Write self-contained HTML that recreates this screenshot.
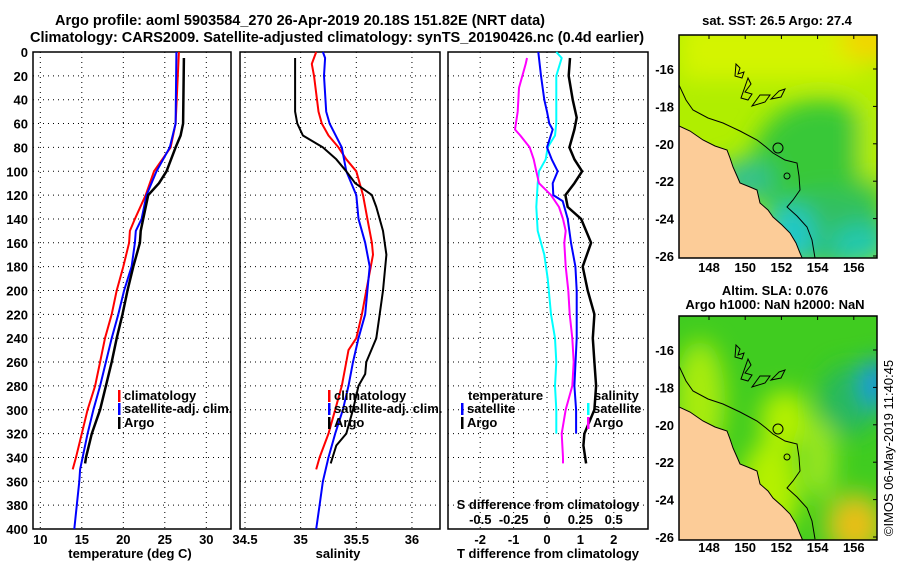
<!DOCTYPE html>
<html><head><meta charset="utf-8"><style>
html,body{margin:0;padding:0;background:#fff;width:900px;height:580px;overflow:hidden}
svg{display:block;font-family:"Liberation Sans",sans-serif;font-weight:bold}
text{font-size:13px;fill:#000}
</style></head><body>
<svg id="chart" width="900" height="580" viewBox="0 0 900 580">
<defs>
<filter id="blur12"><feGaussianBlur stdDeviation="12"/></filter>
<clipPath id="clipTop"><rect x="679" y="35" width="198" height="223"/></clipPath>
<clipPath id="clipBot"><rect x="679" y="316" width="198" height="224"/></clipPath>
</defs>
<text x="300" y="25" text-anchor="middle" style="font-size:14.5px">Argo profile: aoml 5903584_270 26-Apr-2019 20.18S 151.82E (NRT data)</text>
<text x="337" y="42" text-anchor="middle" style="font-size:14.5px">Climatology: CARS2009. Satellite-adjusted climatology: synTS_20190426.nc (0.4d earlier)</text>

<g id="p1"></g>
<g id="p2"></g>
<g id="p3"></g>

<g>
<text x="777" y="25" text-anchor="middle">sat. SST: 26.5 Argo: 27.4</text>
<g clip-path="url(#clipTop)">
<rect x="679" y="35" width="198" height="223" fill="#b0ee00"/>
<g filter="url(#blur12)">
<rect x="680" y="20" width="210" height="60" fill="#d4f400"/>
<ellipse cx="870" cy="40" rx="30" ry="20" fill="#f4d400"/>
<ellipse cx="820" cy="170" rx="70" ry="70" fill="#38c838"/>
<ellipse cx="830" cy="230" rx="60" ry="40" fill="#30c060"/>
<ellipse cx="860" cy="245" rx="30" ry="20" fill="#20c8b0"/>
<ellipse cx="790" cy="235" rx="25" ry="30" fill="#20c8c8"/>
<ellipse cx="745" cy="180" rx="30" ry="20" fill="#30c090"/>
<rect x="860" y="60" width="30" height="120" fill="#b8ee00"/>
</g>
<use href="#land"/>
</g>
<rect x="679" y="35" width="198" height="223" fill="none" stroke="#000" stroke-width="1.5"/>
</g>

<g>
<text x="775" y="295" text-anchor="middle">Altim. SLA: 0.076</text>
<text x="775" y="309" text-anchor="middle">Argo h1000: NaN h2000: NaN</text>
<g clip-path="url(#clipBot)">
<rect x="679" y="316" width="198" height="224" fill="#40cc20"/>
<g filter="url(#blur12)">
<ellipse cx="700" cy="400" rx="25" ry="60" fill="#a8ec10"/>
<ellipse cx="785" cy="420" rx="25" ry="30" fill="#b4f000"/>
<ellipse cx="770" cy="490" rx="30" ry="50" fill="#b4f000"/>
<ellipse cx="820" cy="460" rx="15" ry="40" fill="#a0e820"/>
<ellipse cx="850" cy="400" rx="30" ry="35" fill="#28b860"/>
<ellipse cx="877" cy="383" rx="14" ry="25" fill="#1890e8"/>
<ellipse cx="855" cy="525" rx="22" ry="26" fill="#f0a010"/>
<ellipse cx="855" cy="525" rx="32" ry="34" fill="#e8d020" opacity="0.6"/>
</g>
<use href="#land" transform="translate(0,281)"/>
</g>
<rect x="679" y="316" width="198" height="224" fill="none" stroke="#000" stroke-width="1.5"/>
</g>
<g id="maplabels"></g>
<text transform="translate(893,448) rotate(-90)" text-anchor="middle" style="font-weight:normal;font-size:13px">©IMOS 06-May-2019 11:40:45</text>

<defs>
<g id="land">
<path d="M679,126 L690,131 L703,140 L715,146 L727,150 L730,158 L733,167 L737,176 L740,183 L750,187 L757,190 L760,203 L768,210 L773,217 L782,225 L790,233 L796,243 L800,253 L803,260 L679,260 Z" fill="#fccc98" stroke="#000" stroke-width="1"/>
<path d="M679,85 L686,100 L693,110 L708,118 L723,123 L740,131 L757,140 L766,147 L773,153 L785,160 L797,163 L799,176 L800,190 L793,200 L787,207 L797,216 L807,227 L812,240 L815,258" fill="none" stroke="#000" stroke-width="1"/>
<path d="M736,64 L740,68 L738,74 L744,72 L742,78 L735,76 Z M748,78 L751,84 L745,92 L752,94 L748,100 L741,98 Z M760,95 L770,95 L765,102 L752,106 Z M779,91 L785,89 L781,97 L771,99 Z" fill="none" stroke="#000" stroke-width="1"/>
<circle cx="778" cy="148" r="5" fill="none" stroke="#000" stroke-width="1"/>
<circle cx="787" cy="176" r="3" fill="none" stroke="#000" stroke-width="1"/>
</g>
</defs>

<script>
const NS="http://www.w3.org/2000/svg";
function mk(parent,tag,attrs,txt){const e=document.createElementNS(NS,tag);for(const k in attrs)e.setAttribute(k,attrs[k]);if(txt!==undefined)e.textContent=txt;parent.appendChild(e);return e;}

const depthTicks=[0,20,40,60,80,100,120,140,160,180,200,220,240,260,280,300,320,340,360,380,400];
const tempTicks=[10,15,20,25,30];
const salTicks=[34.5,35,35.5,36];
const tdiffTicks=[-2,-1,0,1,2];
const sdiffTicks=[-0.5,-0.25,0,0.25,0.5];

const climTDepth=[0,60,70,80,100,120,140,150,160,180,200,220,240,260,280,300,320,340,350];
const climT=[26.7,26.3,26.0,25.7,23.7,22.7,21.4,20.8,20.7,20.0,19.2,18.6,17.8,17.2,16.6,15.7,15.0,14.3,13.9];
const satTDepth=[0,60,80,100,120,140,150,160,180,200,220,240,260,280,300,320,340,350,360,380,400];
const satT=[26.4,26.3,25.6,24.0,22.8,22.2,21.5,21.4,21.0,20.1,19.4,18.6,17.9,17.2,16.4,15.7,15.1,14.8,14.7,14.4,14.1];
const argoTDepth=[5,60,70,80,100,110,120,140,150,160,180,200,220,240,260,280,300,320,340,345];
const argoT=[27.3,27.2,26.9,26.3,25.2,24.3,23.0,22.4,22.1,22.0,21.2,20.5,19.9,19.2,18.6,17.9,17.2,16.2,15.5,15.4];

const climSDepth=[0,10,20,50,60,70,80,90,100,120,140,160,170,180,200,220,240,250,260,280,300,320,340,350];
const climS=[35.14,35.10,35.12,35.16,35.19,35.25,35.34,35.41,35.50,35.56,35.60,35.64,35.65,35.63,35.59,35.55,35.50,35.43,35.41,35.37,35.31,35.25,35.17,35.14];
const satSDepth=[0,5,20,50,60,80,100,120,140,160,180,200,220,240,260,280,300,320,340,360,380,400];
const satS=[35.20,35.22,35.21,35.23,35.26,35.37,35.41,35.50,35.52,35.58,35.62,35.60,35.58,35.52,35.47,35.43,35.38,35.31,35.25,35.20,35.17,35.14];
const argoSDepth=[5,20,50,60,70,80,90,100,110,120,130,150,170,200,220,240,260,270,280,300,320,330,345];
const argoS=[34.95,34.95,34.95,34.97,35.02,35.20,35.32,35.41,35.49,35.64,35.68,35.74,35.77,35.74,35.71,35.68,35.59,35.58,35.52,35.47,35.41,35.32,35.27];

const satDTDepth=[0,20,40,50,60,65,80,90,100,110,120,125,140,160,180,200,240,280,300,320];
const satDT=[-0.26,-0.18,-0.08,0,0.07,0.17,0,0.14,0.32,0.17,0.19,0.47,0.62,0.72,0.85,0.89,0.89,0.82,0.87,0.87];
const argoDTDepth=[5,20,40,55,65,80,90,100,110,120,130,140,160,180,200,220,240,260,280,300,320,330,345];
const argoDT=[0.69,0.65,0.77,0.89,0.82,0.67,0.82,1.05,0.82,0.55,0.62,1.02,1.32,1.07,1.22,1.42,1.37,1.42,1.47,1.42,1.12,1.09,1.17];
const satDSDepth=[0,5,20,40,60,70,80,90,100,110,130,150,170,190,220,240,260,280,300,320];
const satDS=[0.07,0.11,0.07,0.07,0.07,0.06,0.005,-0.01,-0.06,-0.07,-0.08,-0.07,-0.02,0.005,0.03,0.06,0.07,0.06,0.07,0.07];
const argoDSDepth=[5,10,30,50,65,70,80,90,100,110,120,130,140,150,160,180,200,220,240,260,280,300,320,340,345];
const argoDS=[-0.15,-0.16,-0.21,-0.22,-0.24,-0.20,-0.13,-0.10,-0.08,-0.06,0.03,0.09,0.12,0.14,0.13,0.14,0.16,0.17,0.19,0.20,0.19,0.14,0.11,0.12,0.12];

const latTicks=[-16,-18,-20,-22,-24,-26];
const lonTicks=[148,150,152,154,156];

const Y=d=>52+d*1.1925;
const xT=t=>40.3+(t-10)*8.3;
const xS=s=>245+(s-34.5)*111.3;
const xDT=d=>547+d*33.4;
const xDS=d=>547+d*133.4;
const mapX=lon=>709+(lon-148)*18.1;
const mapYtop=lat=>69+(-16-lat)*18.7;

function frame(g,x0,x1,name,gridXs){
  for(const d of depthTicks){ if(d>0&&d<400){const l=mk(g,'line',{x1:x0,x2:x1,y1:Y(d),y2:Y(d),stroke:'#000','stroke-width':1,'stroke-dasharray':'1 4'});
    
    }}
  for(const x of gridXs){const l=mk(g,'line',{x1:x,x2:x,y1:Y(0),y2:Y(400),stroke:'#000','stroke-width':1,'stroke-dasharray':'1 4'});
    
    }
  const r=mk(g,'rect',{x:x0,y:Y(0),width:x1-x0,height:Y(400)-Y(0),fill:'none',stroke:'#000','stroke-width':1.5});
  
  
}
function line(g,depths,vals,sx,color,w,name){
  const pts=depths.map((d,i)=>sx(vals[i]).toFixed(1)+','+Y(d).toFixed(1)).join(' ');
  const p=mk(g,'polyline',{points:pts,fill:'none',stroke:color,'stroke-width':w,'stroke-linejoin':'round'});
  
  
}
function legend(g,x,y,color,label,name){
  const r=mk(g,'rect',{x:x,y:y-10,width:2.5,height:12,fill:color});
  
  
  if(label){const t=mk(g,'text',{x:x+6,y:y},label);
  
  }
}

const p1=document.getElementById('p1');
frame(p1,33,231,'temperature-panel',tempTicks.map(xT));
for(const d of depthTicks){const t=mk(p1,'text',{x:28,y:Y(d)+5,'text-anchor':'end'},d);
  
  }
for(const v of tempTicks){const t=mk(p1,'text',{x:xT(v),y:544,'text-anchor':'middle'},v);
  
  }
{const t=mk(p1,'text',{x:130,y:558,'text-anchor':'middle'},'temperature (deg C)');
 
 }
line(p1,climTDepth,climT,xT,'#ff0000',2,'climatology-temperature-line');
line(p1,satTDepth,satT,xT,'#0000ff',2,'satellite-temperature-line');
line(p1,argoTDepth,argoT,xT,'#000000',2.5,'argo-temperature-line');
legend(p1,118,400,'#ff0000','climatology','legend-climatology');
legend(p1,118,413,'#0000ff','satellite-adj. clim.','legend-satellite');
legend(p1,118,427,'#000000','Argo','legend-argo');

const p2=document.getElementById('p2');
frame(p2,240,440,'salinity-panel',salTicks.map(xS));
for(const v of salTicks){const t=mk(p2,'text',{x:xS(v),y:544,'text-anchor':'middle'},v);
  
  }
{const t=mk(p2,'text',{x:338,y:558,'text-anchor':'middle'},'salinity');
 
 }
line(p2,climSDepth,climS,xS,'#ff0000',2,'climatology-salinity-line');
line(p2,satSDepth,satS,xS,'#0000ff',2,'satellite-salinity-line');
line(p2,argoSDepth,argoS,xS,'#000000',2,'argo-salinity-line');
legend(p2,328,400,'#ff0000','climatology','legend2-climatology');
legend(p2,328,413,'#0000ff','satellite-adj. clim.','legend2-satellite');
legend(p2,328,427,'#000000','Argo','legend2-argo');

const p3=document.getElementById('p3');
frame(p3,448,648,'difference-panel',tdiffTicks.map(xDT));
for(const v of tdiffTicks){const t=mk(p3,'text',{x:xDT(v),y:544,'text-anchor':'middle'},v);
  
  }
for(const v of sdiffTicks){const t=mk(p3,'text',{x:xDS(v),y:524,'text-anchor':'middle'},v);
  
  }
{const t=mk(p3,'text',{x:548,y:509,'text-anchor':'middle'},'S difference from climatology');
 
 }
{const t=mk(p3,'text',{x:548,y:558,'text-anchor':'middle'},'T difference from climatology');
 
 }
line(p3,satDSDepth,satDS,xDS,'#00ffff',2,'satellite-salinity-diff-line');
line(p3,argoDSDepth,argoDS,xDS,'#ff00ff',2,'argo-salinity-diff-line');
line(p3,satDTDepth,satDT,xDT,'#0000ff',2,'satellite-temperature-diff-line');
line(p3,argoDTDepth,argoDT,xDT,'#000000',2.5,'argo-temperature-diff-line');
{const t=mk(p3,'text',{x:468,y:400},'temperature');
 
 }
legend(p3,461,413,'#0000ff','satellite','legend3-temp-satellite');
legend(p3,461,427,'#000000','Argo','legend3-temp-argo');
{const t=mk(p3,'text',{x:594,y:400},'salinity');
 
 }
legend(p3,587,413,'#00ffff','satellite','legend3-sal-satellite');
legend(p3,587,427,'#ff00ff','Argo','legend3-sal-argo');

const ml=document.getElementById('maplabels');
for(const off of [0,281]){
  for(const lat of latTicks){const y=mapYtop(lat)+off;
    const t=mk(ml,'text',{x:674,y:y+5,'text-anchor':'end'},lat);
    
    
    mk(ml,'line',{x1:873,x2:877,y1:y,y2:y,stroke:'#000'});}
  for(const lon of lonTicks){const x=mapX(lon);
    const t=mk(ml,'text',{x:x,y:(off?552:272),'text-anchor':'middle'},lon);
    
    
    mk(ml,'line',{x1:x,x2:x,y1:35+off,y2:39+off,stroke:'#000'});}
}
</script>
</svg>
</body></html>
